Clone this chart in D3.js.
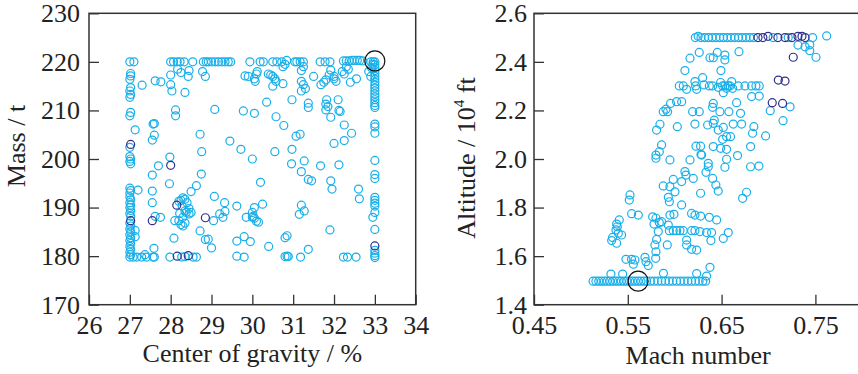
<!DOCTYPE html>
<meta charset="utf-8">
<style>
body { margin: 0; background: #fff; }
svg text { font-family: "Liberation Serif", "DejaVu Serif", serif !important; fill: #222; }
.frame { fill: none; stroke: #333; stroke-width: 1.5; }
.tick line { stroke: #333; stroke-width: 1.3; }
</style>
<body>
<script src="https://d3js.org/d3.v7.min.js"></script>
<script>

// ---- left panel: centre of gravity (%) vs mass (t) ----
var cgTicks = [26, 27, 28, 29, 30, 31, 32, 33, 34];
var massTicks = [170, 180, 190, 200, 210, 220, 230];

var cgMassLight = [
  // column at 27 %
  [27.0,220],[27.1,220],[27.02,217.6],[27.02,217.1],[27.0,216.4],[27.02,214.7],[27.0,214.0],[27.02,213.3],[27.0,212.7],
  [27.02,209.6],[27.0,208.9],[27.0,202.4],[27.0,200.5],[27.02,200.0],[27.0,199.5],[27.02,199.0],
  [27.0,194.0],[27.02,193.5],[27.0,193.0],[27.0,192.2],[27.02,191.6],[27.0,191.0],[27.02,190.5],[27.0,190.0],
  [27.02,189.4],[27.0,188.8],[27.02,188.2],[27.0,186.8],[27.02,186.2],[27.0,185.6],[27.02,185.0],[27.0,184.4],
  [27.02,183.8],[27.0,183.2],[27.02,182.6],[27.0,182.0],[27.02,181.4],[27.0,180.8],[27.02,180.3],[27.0,179.8],
  [27.13,206],[27.13,185.3],[27.13,184],[27.2,193.6],[27.08,179.8],[27.17,179.8],[27.29,179.8],[27.37,180.3],
  [27.41,179.8],[27.57,179.8],[27.59,181.6],[27.3,215.2],
  // top row at 220 t
  [28.0,220],[28.07,220],[28.16,220],[28.23,220],[28.33,220],[28.54,220],[28.8,220],[28.87,220],[28.92,220],
  [29.0,220],[29.09,220],[29.17,220],[29.25,220],[29.33,220],[29.41,220],[29.47,220],[29.94,220],[30.19,220],
  [30.27,220],[30.5,220],[30.6,220],[30.72,220],[30.84,220.3],[31.04,220],[31.09,220],[31.17,220],[31.25,220],
  [31.66,220],[31.78,220],[31.9,220],[32.23,220.2],[32.3,220.2],[32.37,220.2],[32.44,220.3],[32.5,220.3],
  [32.57,220.3],[32.63,220.3],[32.7,220.2],[32.9,220],[32.96,220],
  // column at 33 %
  [33,220],[33,219.4],[33,218.8],[33,218.2],[33,217.6],[33,217],[33,216.4],[33,215.8],[33,215.2],[33,214.6],
  [33,214],[33,213.4],[33,212.8],[33,212.2],[33,211.6],[33,211],[33,210.6],[33,207.2],[33,206.6],[33,205.3],
  [33,199.7],[33,196.8],[33,196],[33,192.1],[33,191.5],[33,190.9],[33,190.3],[33,189],[32.95,188],[33,185.5],
  [33,181.2],[33,180.6],[33,180.1],[33,179.7],[32.85,218],[32.9,217],[32.92,218.8],[32.95,219.5],
  // upper band
  [27.62,216.1],[27.76,215.9],[28.0,217.3],[28.0,215.3],[28.03,214.0],[28.17,218.5],[28.25,217.8],[28.45,218.2],
  [28.43,217.0],[28.35,213.7],[28.78,218.0],[28.85,217.0],[29.82,217.1],[29.9,217.0],[30.05,216.5],[30.07,216.0],
  [30.1,217.5],[30.12,218.0],[30.39,217.5],[30.45,217.3],[30.5,217.0],[30.55,216.5],[30.58,216.0],[30.5,215.0],
  [30.75,219.0],[30.8,219.5],[30.75,215.5],[31.2,218.2],[31.25,219.0],[31.2,216.0],[31.25,215.3],[31.3,214.5],
  [31.2,214.0],[31.5,217.0],[31.68,215.3],[31.75,215.8],[31.8,216.3],[31.88,217.3],[31.92,218.3],[32.0,217.0],
  [32.0,216.5],[32.05,216.0],[32.2,218.0],[32.25,217.5],[32.3,219.0],[32.35,218.5],[32.4,215.8],[32.55,216.5],
  // middle
  [27.57,207.2],[27.6,207.3],[27.6,204.9],[27.55,203.9],[27.55,196.7],[27.7,198.6],[28.12,210.1],[28.12,208.9],
  [27.98,200.4],[27.97,194.9],[28.72,205.1],[28.76,201.5],[28.75,196.9],[28.63,194.5],[28.5,193.3],[29.08,210.2],
  [29.45,203.7],[29.72,202.0],[29.78,209.9],[30.05,209.4],[30.0,200.0],[30.35,211.7],[30.55,201.5],[30.58,208.7],
  [30.77,206.9],[30.97,212.2],[30.97,202.0],[30.96,199.0],[31.07,204.7],[31.17,205.1],[31.2,197.4],[31.27,199.6],
  [31.37,211.5],[31.37,210.6],[31.37,195.8],[31.45,195.5],[31.67,198.6],[31.82,212.2],[31.8,211.3],[31.85,210.8],
  [31.8,210.1],[31.92,208.6],[31.92,195.5],[32.0,203.2],[31.95,193.8],[32.1,212.2],[32.15,209.8],[32.12,210.0],
  [32.12,198.8],[32.25,207.0],[32.25,203.8],[32.43,205.3],[32.6,193.8],[32.62,191.8],
  // lower
  [27.55,193.4],[27.55,191.0],[27.62,188.2],[27.75,188.0],[27.6,179.8],
  [28.2,191.3],[28.25,191.5],[28.3,192.0],[28.35,191.7],[28.4,191.0],[28.45,189.8],[28.5,189.0],[28.45,188.7],
  [28.22,188.8],[28.2,187.3],[28.25,186.5],[28.3,186.2],[28.35,186.8],[28.3,188.0],[28.35,189.3],[28.1,187.3],
  [28.28,190.3],[28.38,189.0],[28.08,183.7],[28.72,185.2],[28.85,183.4],[28.92,183.5],[29.05,187.3],[29.0,181.7],
  [29.07,192.3],[29.2,188.7],[29.32,191.0],[29.33,189.2],[29.28,188.0],[29.62,190.3],[29.85,188.0],[30.0,189.0],
  [30.02,188.2],[30.05,190.0],[30.05,187.8],[30.0,188.0],[30.1,187.2],[30.15,187.0],[30.25,190.7],[30.2,195.2],
  [29.62,183.1],[29.8,184.0],[29.95,183.0],[30.4,182.0],[30.8,183.8],[30.85,184.2],[31.15,188.6],[31.2,190.5],
  [31.27,189.3],[31.37,181.4],[31.9,185.4],
  // bottom row at 180 t
  [27.98,179.8],[28.27,179.8],[28.35,179.9],[28.55,179.8],[28.63,179.8],[29.62,180.0],[29.8,179.8],[30.8,179.9],
  [30.85,180.0],[30.88,179.9],[31.18,179.8],[32.23,179.8],[32.33,179.8],[32.54,179.8]
];
var cgMassDark = [
  [27.02,203.0],[27.02,187.3],[27.55,187.3],[28.0,198.7],[28.15,190.5],[28.85,187.9],[28.16,180.0],[28.43,180.1],[33.0,182.1]
];
var cgMassMark = [[33.0,220.2]];

// ---- right panel: Mach number vs altitude (10^4 ft) ----
var machTicks = [0.45, 0.55, 0.65, 0.75];
var altTicks = [1.4, 1.6, 1.8, 2.0, 2.2, 2.4, 2.6];

var machAltLight = [
  // row at 1.5
  [0.513,1.497],[0.516,1.497],[0.519,1.497],[0.522,1.497],[0.525,1.497],[0.528,1.497],[0.531,1.497],[0.534,1.497],
  [0.537,1.497],[0.540,1.497],[0.543,1.497],[0.546,1.497],[0.549,1.497],[0.552,1.497],[0.555,1.497],[0.558,1.497],
  [0.561,1.497],[0.564,1.497],[0.567,1.497],[0.570,1.497],[0.574,1.497],[0.578,1.497],[0.582,1.497],[0.586,1.497],
  [0.590,1.497],[0.594,1.497],[0.598,1.497],[0.602,1.497],[0.606,1.497],[0.610,1.497],[0.614,1.497],[0.618,1.497],
  [0.622,1.497],[0.626,1.497],[0.630,1.497],[0.633,1.497],
  [0.532,1.526],[0.5445,1.526],[0.588,1.529],[0.6234,1.528],[0.634,1.518],[0.6376,1.554],
  // low cluster
  [0.5523,1.852],[0.5516,1.831],[0.5541,1.775],[0.5612,1.769],[0.5409,1.749],[0.5381,1.732],[0.5388,1.721],
  [0.5374,1.708],[0.5399,1.694],[0.5434,1.687],[0.5338,1.677],[0.5328,1.664],[0.5381,1.653],[0.548,1.587],
  [0.554,1.587],[0.5576,1.584],[0.5559,1.567],[0.5683,1.595],[0.5694,1.577],[0.5718,1.561],
  [0.5765,1.762],[0.58,1.756],[0.5779,1.732],[0.5836,1.738],[0.586,1.742],[0.5825,1.701],[0.5807,1.669],
  [0.5789,1.646],[0.58,1.618],[0.5797,1.591],[0.5921,1.646],[0.5949,1.769],[0.5992,1.772],[0.5932,1.728],
  [0.5943,1.705],[0.5985,1.705],[0.602,1.705],[0.6056,1.705],[0.6091,1.705],[0.618,1.776],[0.6216,1.769],
  [0.6276,1.765],[0.6369,1.76],[0.6447,1.749],[0.618,1.705],[0.6216,1.705],[0.6269,1.701],[0.634,1.697],
  [0.6393,1.697],[0.6127,1.666],[0.6127,1.646],[0.618,1.628],[0.6234,1.625],[0.6386,1.664],[0.6518,1.673],
  [0.6571,1.697],
  // middle band
  [0.5878,1.889],[0.5949,1.886],[0.5985,1.916],[0.6003,1.865],[0.5932,1.842],[0.5943,1.824],[0.6074,1.811],
  [0.5949,1.996],[0.6074,1.907],[0.6109,1.948],[0.612,1.934],[0.6198,1.92],[0.6163,1.996],[0.6287,2.016],
  [0.6358,1.982],[0.6358,1.968],[0.6333,1.945],[0.6404,1.92],[0.6439,1.893],[0.6464,1.868],[0.6276,1.859],
  [0.6535,1.966],[0.6553,1.999],[0.667,2.014],[0.6724,1.838],[0.6766,1.863],[0.6809,1.968],[0.6898,1.971],
  [0.6809,2.051],
  // 2.0 - 2.25
  [0.58,2.003],[0.58,2.016],[0.5836,2.03],[0.586,2.058],[0.5807,2.119],[0.5843,2.143],[0.5878,2.195],
  [0.5907,2.205],[0.5924,2.195],[0.5956,2.229],[0.602,2.236],[0.6074,2.236],[0.6028,2.133],[0.6191,2.195],
  [0.6262,2.195],[0.6216,2.144],[0.6227,2.053],[0.6276,2.053],[0.628,2.019],[0.6351,2.14],[0.6422,2.16],
  [0.6411,2.147],[0.6411,2.229],[0.6404,2.213],[0.6482,2.195],[0.6578,2.195],[0.6464,2.119],[0.6518,2.13],
  [0.6411,2.051],[0.6489,2.044],[0.6553,2.04],[0.6511,2.081],[0.6553,2.092],[0.6595,2.092],[0.6624,2.144],
  [0.6702,2.188],[0.6713,2.144],[0.666,2.232],[0.6844,2.133],[0.683,2.106],[0.6969,2.095],[0.682,2.257],
  [0.6901,2.259],[0.7019,2.199],[0.723,2.215],[0.7155,2.158],
  // row near 2.3
  [0.6049,2.301],[0.6092,2.301],[0.6127,2.287],[0.6216,2.319],[0.6223,2.301],[0.6234,2.287],[0.6298,2.335],
  [0.6312,2.305],[0.6369,2.301],[0.6404,2.301],[0.6464,2.295],[0.6489,2.315],[0.6511,2.301],[0.6535,2.301],
  [0.6553,2.291],[0.6571,2.301],[0.6589,2.301],[0.6607,2.319],[0.6617,2.291],[0.6518,2.273],[0.6678,2.301],
  [0.6749,2.301],[0.682,2.301],[0.6866,2.301],[0.6901,2.301],
  // near 2.4
  [0.6262,2.439],[0.6163,2.415],[0.6109,2.364],[0.6376,2.417],[0.6411,2.417],[0.6454,2.439],[0.6535,2.428],
  [0.6535,2.408],[0.6493,2.364],[0.6685,2.442],
  [0.7314,2.469],[0.739,2.462],[0.744,2.47],[0.744,2.446],[0.7506,2.419],
  // row at 2.5
  [0.622,2.5],[0.625,2.505],[0.628,2.5],[0.632,2.5],[0.636,2.5],[0.640,2.5],[0.644,2.5],[0.648,2.5],[0.652,2.5],
  [0.656,2.5],[0.660,2.5],[0.664,2.5],[0.668,2.5],[0.672,2.5],[0.676,2.5],[0.680,2.5],[0.684,2.5],[0.705,2.5],
  [0.721,2.5],[0.747,2.5],[0.762,2.507]
];
var machAltDark = [
  [0.6888,2.5],[0.694,2.5],[0.6995,2.505],[0.710,2.5],[0.7176,2.5],[0.725,2.5],[0.7314,2.505],[0.7357,2.505],
  [0.739,2.5],[0.7264,2.419],[0.7105,2.325],[0.7176,2.321],[0.704,2.232],[0.715,2.229]
];
var machAltMark = [[0.561,1.497]];

var lightBlue = "#19afe9", darkBlue = "#2e2f8c";
var serif = "'Liberation Serif', 'DejaVu Serif', serif";

var svg = d3.select("body").append("svg")
    .attr("width", 858)
    .attr("height", 374)
    .style("font-family", serif);

function drawPanel(opt) {
  var x = d3.scaleLinear().domain(opt.xDomain).range([opt.left, opt.right]);
  var y = d3.scaleLinear().domain(opt.yDomain).range([304.7, 13.3]);
  var g = svg.append("g");

  // markers
  g.selectAll(".light").data(opt.light).enter().append("circle")
      .attr("cx", function(d) { return x(d[0]); })
      .attr("cy", function(d) { return y(d[1]); })
      .attr("r", 4)
      .attr("fill", "none")
      .attr("stroke", lightBlue)
      .attr("stroke-width", 1.2);
  g.selectAll(".dark").data(opt.dark).enter().append("circle")
      .attr("cx", function(d) { return x(d[0]); })
      .attr("cy", function(d) { return y(d[1]); })
      .attr("r", 4)
      .attr("fill", "none")
      .attr("stroke", darkBlue)
      .attr("stroke-width", 1.2);
  g.selectAll(".mark").data(opt.mark).enter().append("circle")
      .attr("cx", function(d) { return x(d[0]); })
      .attr("cy", function(d) { return y(d[1]); })
      .attr("r", 10)
      .attr("fill", "none")
      .attr("stroke", "#111")
      .attr("stroke-width", 1.2);

  // axes, ticks pointing inward
  var xa = g.append("g")
      .attr("transform", "translate(0,304.7)")
      .call(d3.axisBottom(x).tickValues(opt.xTicks).tickFormat(d3.format(opt.xFmt))
        .tickSizeInner(-10).tickSizeOuter(0).tickPadding(11));
  var ya = g.append("g")
      .attr("transform", "translate(" + opt.left + ",0)")
      .call(d3.axisLeft(y).tickValues(opt.yTicks).tickFormat(d3.format(opt.yFmt))
        .tickSizeInner(-10).tickSizeOuter(0).tickPadding(opt.yPad));
  [xa, ya].forEach(function(a) {
    a.attr("font-family", serif).attr("font-size", 26);
    a.select(".domain").remove();
    a.selectAll("text").style("font-family", serif).attr("fill", "#222");
  });

  g.append("rect").attr("class", "frame")
      .attr("x", opt.left).attr("y", 13.3)
      .attr("width", opt.right - opt.left).attr("height", 304.7 - 13.3);

  g.append("text")
      .attr("x", (opt.left + opt.right) / 2)
      .attr("y", opt.xTitleY)
      .attr("text-anchor", "middle")
      .attr("font-size", 26)
      .style("font-family", serif)
      .text(opt.xTitle);
  return g;
}

drawPanel({
  left: 89, right: 415.7, xDomain: [26, 34], yDomain: [170, 230],
  xTicks: cgTicks, yTicks: massTicks, xFmt: "d", yFmt: "d", yPad: 9,
  light: cgMassLight, dark: cgMassDark, mark: cgMassMark,
  xTitle: "Center of gravity / %", xTitleY: 362
});
svg.append("text")
    .attr("transform", "translate(25,146) rotate(-90)")
    .attr("text-anchor", "middle")
    .attr("font-size", 26)
    .style("font-family", serif)
    .text("Mass / t");

drawPanel({
  left: 534, right: 862.3, xDomain: [0.45, 0.8], yDomain: [1.4, 2.6],
  xTicks: machTicks, yTicks: altTicks, xFmt: ".2f", yFmt: ".1f", yPad: 7,
  light: machAltLight, dark: machAltDark, mark: machAltMark,
  xTitle: "Mach number", xTitleY: 364
});
var yl = svg.append("text")
    .attr("transform", "translate(475,158) rotate(-90)")
    .attr("text-anchor", "middle")
    .attr("font-size", 26)
    .style("font-family", serif);
yl.append("tspan").text("Altitude / 10");
yl.append("tspan").attr("font-size", 15).attr("dy", -11).text("4");
yl.append("tspan").attr("dy", 11).text(" ft");

</script>
</body>
